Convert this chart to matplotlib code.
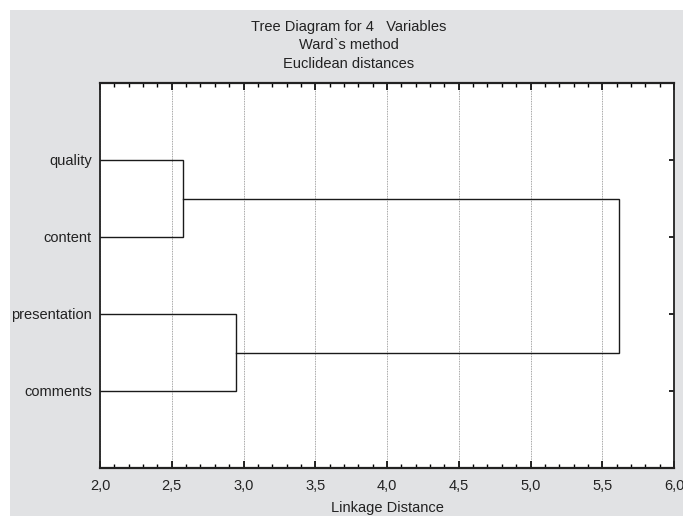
import matplotlib.pyplot as plt
from matplotlib.patches import Rectangle
from matplotlib.ticker import MultipleLocator, FuncFormatter

plt.rcParams['font.family'] = ['Liberation Sans', 'DejaVu Sans']

# leaves, top to bottom
labels = ['quality', 'content', 'presentation', 'comments']
leaf_pos = [4, 3, 2, 1]

# linkage distances
d_qc = 2.58   # quality + content
d_pc = 2.95   # presentation + comments
d_all = 5.62  # both clusters

fs = 10.5
tc = '#222222'

fig = plt.figure(figsize=(6.83, 5.16), dpi=100)
fig.patches.append(Rectangle((10 / 683, 0), 1, 1 - 10 / 516, transform=fig.transFigure,
                             facecolor='#e1e2e4', edgecolor='none', zorder=-10))

ax = fig.add_axes([100 / 683, 48 / 516, 574 / 683, 385 / 516])
ax.set_facecolor('white')
ax.set_zorder(1)

lc = '#1a1a1a'
lw = 1.0

def link(x0a, ya, x0b, yb, d):
    ax.plot([x0a, d, d, x0b], [ya, ya, yb, yb], color=lc, lw=lw, solid_joinstyle='miter')
    return (ya + yb) / 2

m1 = link(0, leaf_pos[0], 0, leaf_pos[1], d_qc)
m2 = link(0, leaf_pos[2], 0, leaf_pos[3], d_pc)
link(d_qc, m1, d_pc, m2, d_all)

ax.set_xlim(2.0, 6.0)
ax.set_ylim(0, 5)
ax.set_yticks(leaf_pos)
ax.set_yticklabels(labels, fontsize=fs, color=tc)
ax.xaxis.set_major_locator(MultipleLocator(0.5))
ax.xaxis.set_minor_locator(MultipleLocator(0.1))
ax.xaxis.set_major_formatter(FuncFormatter(lambda v, p: f'{v:.1f}'.replace('.', ',')))
ax.tick_params(axis='x', which='both', direction='in', top=True, bottom=True,
               labelsize=fs, labelcolor=tc, pad=8)
ax.tick_params(axis='x', which='major', length=5, width=1.2)
ax.tick_params(axis='x', which='minor', length=3, width=1.0)
ax.tick_params(axis='y', which='major', direction='in', left=False, right=True,
               length=3.5, width=1.2, pad=6)
ax.grid(axis='x', which='major', color='#888888', linestyle=(0, (1, 1)), lw=0.6)
for s in ax.spines.values():
    s.set_color(tc)
    s.set_linewidth(1.3)
ax.spines['bottom'].set_linewidth(1.6)
ax.spines['top'].set_linewidth(1.6)

ax.set_xlabel('Linkage Distance', fontsize=fs, color=tc, labelpad=6)
fig.text(349 / 683, 1 - 27 / 516, 'Tree Diagram for 4   Variables', ha='center', va='center',
         fontsize=fs, color=tc)
fig.text(349 / 683, 1 - 45 / 516, 'Ward`s method', ha='center', va='center',
         fontsize=fs, color=tc)
fig.text(349 / 683, 1 - 64 / 516, 'Euclidean distances', ha='center', va='center',
         fontsize=fs, color=tc)

fig.savefig('out.png', dpi=100)
